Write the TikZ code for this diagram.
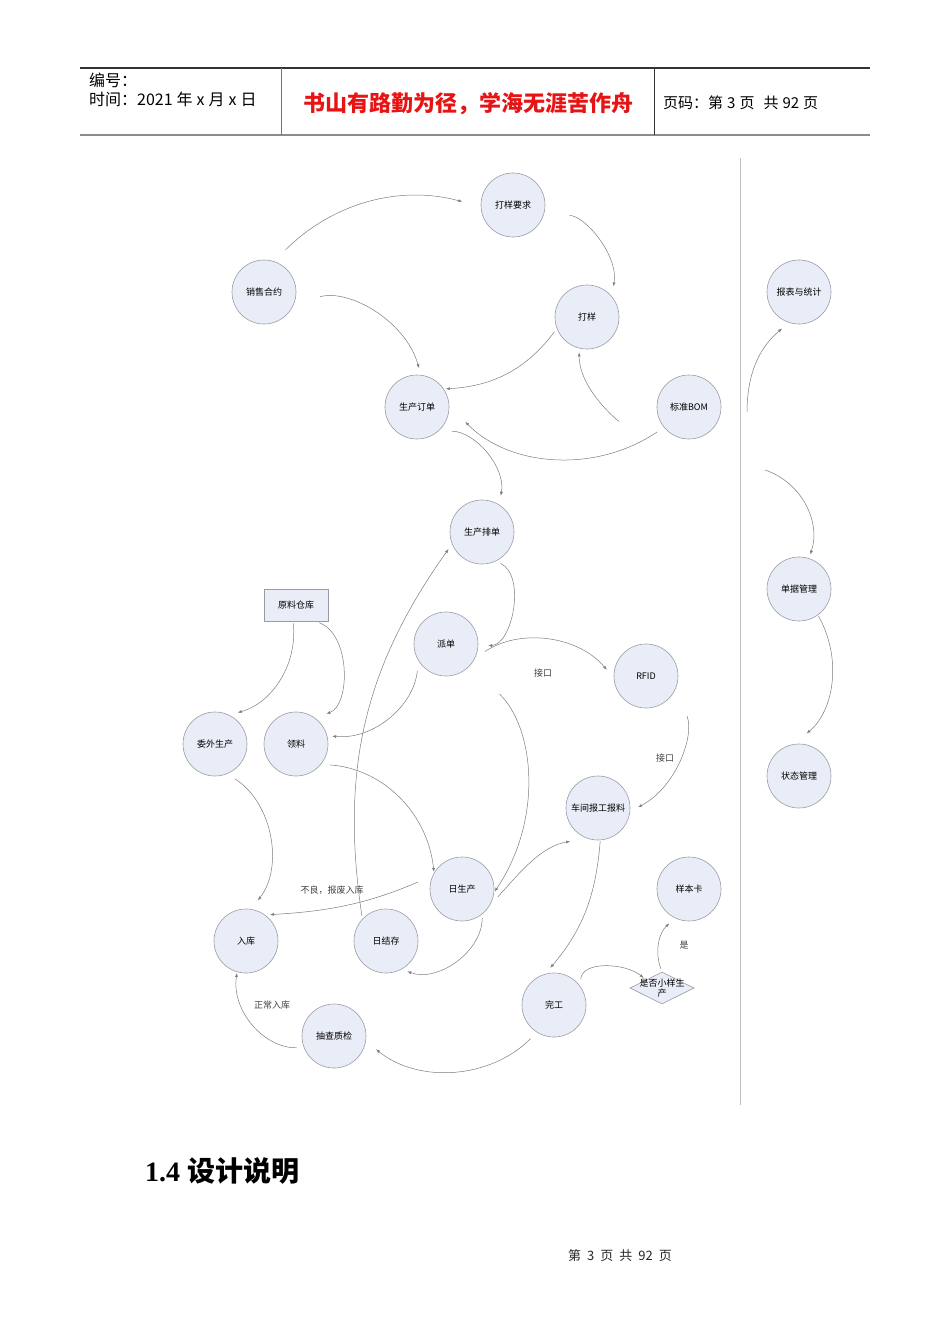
\documentclass[tikz,border=0pt]{standalone}
\usepackage{fontspec}
\setmainfont{Liberation Serif}
\newfontfamily\cjk{Noto Sans CJK SC}
\usetikzlibrary{arrows.meta,shapes.geometric}
\definecolor{st_fill}{RGB}{233,237,247}
\definecolor{st_line}{RGB}{155,155,165}
\definecolor{fl_line}{RGB}{125,125,125}
\definecolor{hd_red}{RGB}{230,20,20}
\tikzstyle{st}=[circle,fill=st_fill,draw=st_line,line width=0.6pt,
  inner sep=0pt,minimum size=64pt,font=\cjk\fontsize{9}{10}\selectfont]
\tikzstyle{store}=[rectangle,fill=st_fill,draw=st_line,line width=0.6pt,
  inner sep=0pt,minimum width=64pt,minimum height=32pt,font=\cjk\fontsize{9}{10}\selectfont]
\tikzstyle{choice}=[diamond,fill=st_fill,draw=st_line,line width=0.6pt,
  inner sep=0pt,minimum width=64pt,minimum height=32pt]
\tikzstyle{flow}=[draw=fl_line,line width=0.5pt,-{Latex[length=4pt,width=3pt]}]
\tikzstyle{elabel}=[inner sep=0pt,text=black!75,font=\cjk\fontsize{9}{10}\selectfont]
\tikzstyle{hd}=[inner sep=0pt,anchor=west,font=\cjk\fontsize{16}{18}\selectfont]

\begin{document}
\begin{tikzpicture}[x=1pt,y=1pt]
	\useasboundingbox[fill=white] (0,0) rectangle (950,-1344);
		\draw[line width=1.2pt,black!80] (80,-68) -- (870,-68);
		\draw[line width=2pt,black!45] (80,-135) -- (870,-135);
		\draw[line width=1pt,black!55] (281,-68) -- (281,-135);
		\draw[line width=1pt,black!80] (654,-68) -- (654,-135);
		\node [style=hd] (bh) at (89,-80) {编号：};
		\node [style=hd] (sj) at (89,-99) {时间：2021\hspace{4pt}年\hspace{4pt}x\hspace{4pt}月\hspace{4pt}x\hspace{4pt}日};
		\node [inner sep=0pt,text=hd_red,font=\cjk\fontsize{22}{24}\selectfont\bfseries] (motto) at (468,-104) {书山有路勤为径，学海无涯苦作舟};
		\node [style=hd,font=\cjk\fontsize{15}{17}\selectfont] (ym) at (663,-103) {页码：第\hspace{4pt}3\hspace{4pt}页\hspace{9pt}共\hspace{4pt}92\hspace{4pt}页};
		\draw[line width=1pt,black!25] (740,-158) -- (740,-1105);
		\node [style=st] (dyyq) at (513,-205) {打样要求};
		\node [style=st] (xsht) at (264,-292) {销售合约};
		\node [style=st] (dy) at (587,-317) {打样};
		\node [style=st] (bbtj) at (799,-292) {报表与统计};
		\node [style=st] (scdd) at (417,-407) {生产订单};
		\node [style=st] (bom) at (689,-407) {标准BOM};
		\node [style=st] (scpd) at (482,-532) {生产排单};
		\node [style=st] (djgl) at (799,-589) {单据管理};
		\node [style=store] (ylck) at (296,-605) {原料仓库};
		\node [style=st] (pd) at (446,-644) {派单};
		\node [style=st] (rfid) at (646,-676) {RFID};
		\node [style=st] (wwsc) at (215,-744) {委外生产};
		\node [style=st] (ll) at (296,-744) {领料};
		\node [style=st] (ztgl) at (799,-776) {状态管理};
		\node [style=st] (cjbg) at (598,-808) {车间报工报料};
		\node [style=st] (rsc) at (462,-889) {日生产};
		\node [style=st] (ybk) at (689,-889) {样本卡};
		\node [style=st] (rk) at (246,-941) {入库};
		\node [style=st] (rjc) at (386,-941) {日结存};
		\node [style=st] (wg) at (554,-1005) {完工};
		\node [style=choice,label={[elabel,align=center,text=black]center:是否小样生\\产}] (sfxy) at (662,-988) {};
		\node [style=st] (ccjz) at (334,-1036) {抽查质检};
		\coordinate (c1) at (747,-412);
		\coordinate (c2) at (765,-470);
		\node [style=elabel] (jk1) at (543,-673) {接口};
		\node [style=elabel] (jk2) at (665,-758) {接口};
		\node [style=elabel] (blbf) at (332,-890) {不良，报废入库};
		\node [style=elabel] (zcrk) at (272,-1005) {正常入库};
		\node [style=elabel] (shi) at (684,-945) {是};
		\draw [flow,shorten <=16pt,shorten >=19pt] (xsht.72) to[bend left=30] (dyyq.183);
		\draw [flow,shorten <=26pt,shorten >=10pt] (dyyq.-19) to[bend left=50] (dy.40);
		\draw [flow,shorten <=4pt,shorten >=2pt] (dy.201) to[bend left=25] (scdd.34);
		\draw [flow,shorten <=27pt,shorten >=7pt] (xsht.-22) to[bend left=45] (scdd.83);
		\draw [flow,shorten <=39pt,shorten >=4pt] (bom.194) to[bend left=50] (dy.256);
		\draw [flow,shorten <=8pt,shorten >=23pt] (bom.219) to[bend left=40] (scdd.3);
		\draw [flow,shorten <=13pt,shorten >=9pt] (scdd.-48) to[bend left=50] (scpd.58);
		\draw [flow,shorten <=5pt,shorten >=10pt] (scpd.-64) to[bend left=75] (pd.-4);
		\draw [flow,shorten <=3pt,shorten >=6pt] (rjc.137) to[bend left=22] (scpd.202);
		\draw [flow,shorten <=12pt,shorten >=11pt] (pd.-26) to[bend left=42] (rfid.184);
		\draw [flow,shorten <=10pt,shorten >=5pt] (pd.211) to[bend left=45] (ll.15);
		\draw [flow,shorten <=2pt,shorten >=9pt] (ylck.-100) to[bend left=40] (wwsc.64);
		\draw [flow,shorten <=4pt,shorten >=12pt] (ylck.-40) to[bend left=70] (ll.54);
		\draw [flow,shorten <=9pt,shorten >=1pt] (ll.-39) to[bend left=40] (rsc.150);
		\draw [flow,shorten <=41pt,shorten >=1pt] (pd.-42) to[bend left=40] (rsc.-6);
		\draw [flow,shorten <=30pt,shorten >=9pt] (rfid.-22) to[bend left=42] (cjbg.-6);
		\draw [flow,shorten <=13pt,shorten >=17pt] (rsc.-33) to[out=48,in=190] (cjbg.250);
		\draw [flow,shorten <=1pt,shorten >=8pt] (cjbg.-86) to[bend left=18] (wg.106);
		\draw [flow,shorten <=4pt,shorten >=6pt] (rsc.-51) to[bend left=55] (rjc.-61);
		\draw [flow,shorten <=16pt,shorten >=5pt] (rsc.156) to[bend left=10] (rk.54);
		\draw [flow,shorten <=9pt,shorten >=11pt] (wwsc.-68) to[bend left=48] (rk.81);
		\draw [flow,shorten <=7pt,shorten >=1pt] (ccjz.201) to[bend left=50] (rk.-106);
		\draw [flow,shorten <=9pt,shorten >=13pt] (wg.238) to[bend left=42] (ccjz.-9);
		\draw [flow,shorten <=7pt,shorten >=3pt] (wg.36) to[out=85,in=140] (sfxy.north west);
		\draw [flow,shorten <=3pt,shorten >=8pt] (sfxy.north) to[bend left=35] (ybk.245);
		\draw [flow,shorten >=9pt] (c1) to[bend left=25] (bbtj.252);
		\draw [flow,shorten >=4pt] (c2) to[bend left=45] (djgl.72);
		\draw [flow,shorten <=1pt,shorten >=17pt] (djgl.-54) to[bend left=40] (ztgl.100);
		\node [inner sep=0pt,anchor=west,font=\fontsize{28}{30}\selectfont\bfseries] (h14) at (145,-1171) {1.4 {\cjk 设计说明}};
		\node [inner sep=0pt,font=\cjk\fontsize{13}{15}\selectfont,text=black!85] (foot) at (620,-1256) {第\hspace{6pt}3\hspace{6pt}页\hspace{6pt}共\hspace{6pt}92\hspace{6pt}页};
\end{tikzpicture}
\end{document}
